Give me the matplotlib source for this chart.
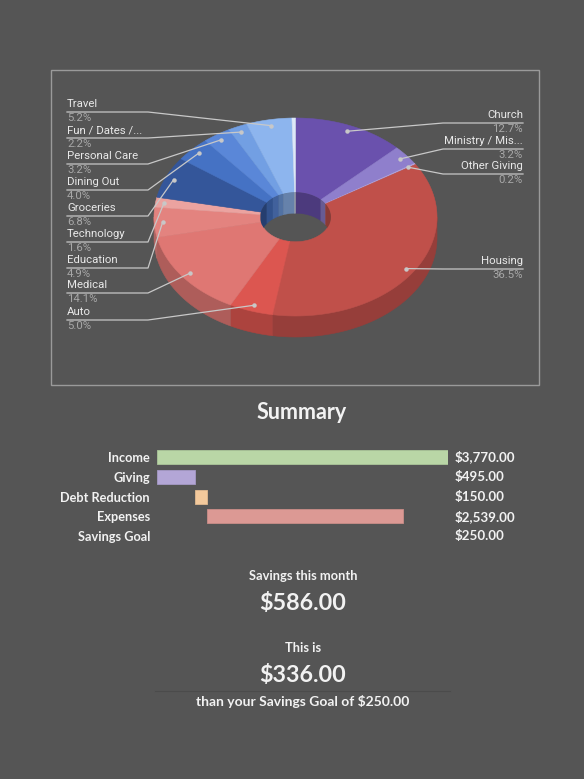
"""
budget summary: 3d donut of spending + summary bars
"""

import numpy as np
import matplotlib.pyplot as plt
from matplotlib.patches import Polygon, Ellipse, Rectangle
from matplotlib.colors import to_rgb

W, H = 584, 779
BG = '#555555'

# spending breakdown, clockwise from 12 o'clock (percent)
pie_labels = ['Church', 'Ministry / Mis...', 'Other Giving', 'Housing', 'Auto', 'Medical',
              'Education', 'Technology', 'Groceries', 'Dining Out', 'Personal Care',
              'Fun / Dates /...', 'Travel', '']
pie_values = [12.7, 3.2, 0.2, 36.5, 5.0, 14.1, 4.9, 1.6, 6.8, 4.0, 3.2, 2.2, 5.2, 0.4]
pie_colors = ['#6a51ad', '#8f7fcc', '#b4a7e0', '#c0504a', '#dc5650', '#df7773',
              '#e3837f', '#eba3a0', '#34569a', '#4572c4', '#5a87d8', '#729fe3',
              '#8db5ee', '#dde8f8']

# label layout (pixel rows of the label names)
left_label_y = [104, 130, 156, 182, 208, 234, 260, 285, 312]   # Travel ... Auto
right_label_y = [115, 141, 166, 261]                            # Church ... Housing

# summary bars
summary_labels = ['Income', 'Giving', 'Debt Reduction', 'Expenses', 'Savings Goal']
summary_values = [3770.00, 495.00, 150.00, 2539.00, 250.00]
summary_colors = ['#b9d6a6', '#b3a6d6', '#f3c99c', '#dc9994', 'none']

savings_month = 586.00
savings_goal = 250.00


def darker(c, k):
    r, g, b = to_rgb(c)
    return (r * k, g * k, b * k)


fig = plt.figure(figsize=(W / 100, H / 100), dpi=100, facecolor=BG)
bg = fig.add_axes([0, 0, 1, 1])
bg.set_xlim(0, W)
bg.set_ylim(H, 0)
bg.axis('off')
bg.set_facecolor(BG)

# chart frame
bg.add_patch(Rectangle((51, 70), 488, 315, fill=False, ec='#9a9a9a', lw=1))

# ---- 3d donut ----
cx, cy, rx, ry = 295.5, 217.0, 141.5, 99.0
depth, hole = 21.0, 0.25


def pt(t, f=1.0, dy=0.0):
    t = np.radians(t)
    return cx + rx * f * np.sin(t), cy - ry * f * np.cos(t) + dy


def arc(a, b, f=1.0, dy=0.0):
    t = np.linspace(a, b, max(int(abs(b - a)) * 2, 2))
    x, y = pt(t, f, dy)
    return np.column_stack([x, y])


vals = np.array(pie_values)
bounds = np.concatenate([[0], np.cumsum(vals) / vals.sum() * 360])

# outer wall, front half
for i in range(len(vals)):
    a, b = max(bounds[i], 90), min(bounds[i + 1], 270)
    if b <= a:
        continue
    poly = np.vstack([arc(a, b), arc(b, a, dy=depth)])
    bg.add_patch(Polygon(poly, closed=True, fc=darker(pie_colors[i], 0.78),
                         ec=darker(pie_colors[i], 0.78), lw=0.4))

# top faces
for i in range(len(vals)):
    a, b = bounds[i], bounds[i + 1]
    poly = np.vstack([arc(a, b), arc(b, a, f=hole)])
    bg.add_patch(Polygon(poly, closed=True, fc=pie_colors[i], ec=pie_colors[i], lw=0.4))

# inner wall, back half of the hole
hole_clip = Ellipse((cx, cy), 2 * rx * hole, 2 * ry * hole, transform=bg.transData)
for i in range(len(vals)):
    for lo, hi in [(-90, 90), (270, 450)]:
        a, b = max(bounds[i], lo), min(bounds[i + 1], hi)
        if b <= a:
            continue
        poly = np.vstack([arc(a, b, f=hole), arc(b, a, f=hole, dy=depth)])
        p = Polygon(poly, closed=True, fc=darker(pie_colors[i], 0.72),
                    ec=darker(pie_colors[i], 0.72), lw=0.3)
        bg.add_patch(p)
        p.set_clip_path(hole_clip)

# labels with leader lines
name_font = dict(family='Roboto', fontsize=8.2, color='#e8e8e8')
pct_font = dict(family='Roboto', fontsize=8.2, color='#a8a8a8')
line_c = '#c8c8c8'

left_idx = [12, 11, 10, 9, 8, 7, 6, 5, 4]
right_idx = [0, 1, 2, 3]

for idx, ly in zip(left_idx, left_label_y):
    mid = (bounds[idx] + bounds[idx + 1]) / 2
    px, py = pt(mid, 0.94)
    uy = ly + 8
    bg.plot([67, 148, px], [uy, uy, py], color=line_c, lw=0.9)
    bg.plot(px, py, 'o', ms=2.2, color=line_c)
    bg.text(67, ly, pie_labels[idx], ha='left', va='center', **name_font)
    bg.text(67, ly + 14, f'{pie_values[idx]:.1f}%', ha='left', va='center', **pct_font)

for idx, ly in zip(right_idx, right_label_y):
    mid = (bounds[idx] + bounds[idx + 1]) / 2
    px, py = pt(mid, 0.94)
    uy = ly + 8
    bg.plot([523, 443, px], [uy, uy, py], color=line_c, lw=0.9)
    bg.plot(px, py, 'o', ms=2.2, color=line_c)
    bg.text(523, ly, pie_labels[idx], ha='right', va='center', **name_font)
    bg.text(523, ly + 14, f'{pie_values[idx]:.1f}%', ha='right', va='center', **pct_font)

# ---- summary ----
lato = dict(family='Lato', fontweight='bold', color='#f2f2f2')
bg.text(302, 412, 'Summary', ha='center', va='center', fontsize=15.5, **lato)

ax = fig.add_axes([157 / W, 1 - 545.9 / H, 291 / W, 98.75 / H])
ax.set_facecolor('none')
lefts = [0, 0] + list(np.cumsum(summary_values[1:4]))
ypos = np.arange(len(summary_labels))
for y, v, l, c in zip(ypos, summary_values, lefts, summary_colors):
    ec = darker(c, 0.92) if c != 'none' else 'none'
    ax.barh(y, v, left=l, height=0.71, color=c, edgecolor=ec, lw=0.6)
    ax.text(1.024, y, f'${v:,.2f}', transform=ax.get_yaxis_transform(),
            ha='left', va='center', fontsize=9.6, **lato)
ax.set_xlim(0, summary_values[0])
ax.set_ylim(4.5, -0.5)
ax.set_yticks(ypos)
ax.set_yticklabels(summary_labels, fontsize=9.2, family='Lato', fontweight='bold', color='#f2f2f2')
ax.tick_params(axis='y', length=0, pad=5)
ax.set_xticks([])
for s in ax.spines.values():
    s.set_visible(False)

bg.text(303, 576, 'Savings this month', ha='center', va='center', fontsize=9.3, **lato)
bg.text(303, 603, f'${savings_month:,.2f}', ha='center', va='center', fontsize=16.8, **lato)
bg.text(303, 648, 'This is', ha='center', va='center', fontsize=9.3, **lato)
bg.text(303, 676, f'${savings_month - savings_goal:,.2f}', ha='center', va='center', fontsize=16.8, **lato)
bg.plot([155, 450], [690.5, 690.5], color='#4b4b4b', lw=0.8)
bg.text(303, 702, f'than your Savings Goal of ${savings_goal:,.2f}', ha='center', va='center',
        fontsize=10, **lato)

fig.savefig('out.png', dpi=100, facecolor=BG)
plt.close(fig)
